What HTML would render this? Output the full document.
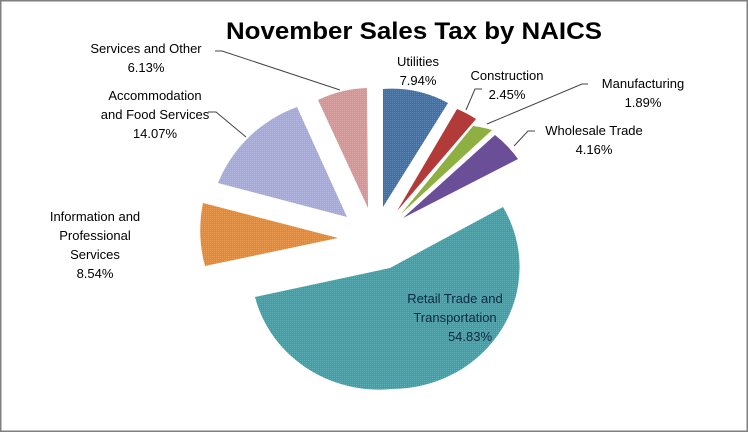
<!DOCTYPE html>
<html><head><meta charset="utf-8"><style>
html,body{margin:0;padding:0;background:#fff}
svg{display:block}
text{font-family:"Liberation Sans",sans-serif;font-size:13px;fill:#000}
</style></head><body>
<svg width="748" height="432" viewBox="0 0 748 432" xmlns="http://www.w3.org/2000/svg">
<defs>
<pattern id="d" width="2" height="2" patternUnits="userSpaceOnUse"><rect width="1" height="1" fill="rgba(255,255,255,0.18)"/></pattern>
</defs>
<rect x="0.5" y="0.5" width="747" height="431" fill="#fff" stroke="#808080" stroke-width="2"/>
<text x="414" y="39" text-anchor="middle" font-weight="bold" style="font-size:24px" textLength="376" lengthAdjust="spacingAndGlyphs">November Sales Tax by NAICS</text>

<g stroke-width="0">
<path d="M383,207 L383,89 A118,118 0 0 1 448,103 Z" fill="#3d6fa8"/>
<path d="M397,211 L457,109 A118,118 0 0 1 476,119 Z" fill="#b23a38"/>
<path d="M401,214 L473,126 A118,118 0 0 1 492,130 Z" fill="#8db041"/>
<path d="M403,218 L495,135 A118,118 0 0 1 518,159 Z" fill="#6a4e97"/>
<path id="r" d="M390,268 L503,207 A128,122 0 0 1 392,389 A128,122 0 0 1 255,297 Z" fill="#3da0a8"/>
<path d="M338,238 L203,203 A138,138 0 0 0 205,266 Z" fill="#e8872d"/>
<path d="M347,217 L218,183 A135,135 0 0 1 297,107 Z" fill="#a5a9da"/>
<path d="M368,208 L318,100 A120,120 0 0 1 367,88 Z" fill="#d69594"/>
</g>
<g fill="url(#d)">
<path d="M383,207 L383,89 A118,118 0 0 1 448,103 Z"/>
<path d="M390,268 L503,207 A128,122 0 0 1 392,389 A128,122 0 0 1 255,297 Z"/>
<path d="M338,238 L203,203 A138,138 0 0 0 205,266 Z"/>
<path d="M347,217 L218,183 A135,135 0 0 1 297,107 Z"/>
<path d="M368,208 L318,100 A120,120 0 0 1 367,88 Z"/>
</g>

<g stroke="#444" stroke-width="1" fill="none">
<polyline points="215,51 222,51 340,90"/>
<polyline points="208,112 216,112 246,137"/>
<polyline points="482,89 475,89 466,110"/>
<polyline points="588,84 582,84 487,124"/>
<polyline points="535,131 528,131 514,146"/>
</g>

<text x="146" y="53" text-anchor="middle">Services and Other</text>
<text x="146" y="72" text-anchor="middle">6.13%</text>
<text x="155" y="100" text-anchor="middle">Accommodation</text>
<text x="155" y="119" text-anchor="middle">and Food Services</text>
<text x="155" y="138" text-anchor="middle">14.07%</text>
<text x="418" y="66" text-anchor="middle">Utilities</text>
<text x="418" y="85" text-anchor="middle">7.94%</text>
<text x="507" y="80" text-anchor="middle">Construction</text>
<text x="507" y="99" text-anchor="middle">2.45%</text>
<text x="643" y="88" text-anchor="middle">Manufacturing</text>
<text x="643" y="107" text-anchor="middle">1.89%</text>
<text x="594" y="135" text-anchor="middle">Wholesale Trade</text>
<text x="594" y="154" text-anchor="middle">4.16%</text>
<text x="95" y="221" text-anchor="middle">Information and</text>
<text x="95" y="240" text-anchor="middle">Professional</text>
<text x="95" y="259" text-anchor="middle">Services</text>
<text x="95" y="278" text-anchor="middle">8.54%</text>
<text x="455" y="303" text-anchor="middle" style="fill:#0b2a44">Retail Trade and</text>
<text x="455" y="322" text-anchor="middle" style="fill:#0b2a44">Transportation</text>
<text x="470" y="341" text-anchor="middle" style="fill:#0b2a44">54.83%</text>
</svg>
</body></html>
